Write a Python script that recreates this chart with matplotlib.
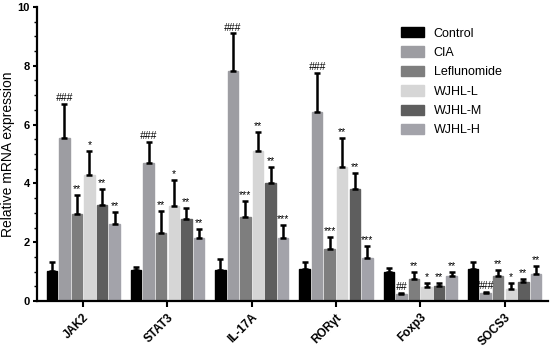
import matplotlib
matplotlib.use("Agg")
import matplotlib.pyplot as plt
import numpy as np
from matplotlib.ticker import MultipleLocator

plt.rcParams['font.family'] = ['Liberation Sans', 'DejaVu Sans']

genes = ["JAK2", "STAT3", "IL-17A", "RORγt", "Foxp3", "SOCS3"]
groups = ["Control", "CIA", "Leflunomide", "WJHL-L", "WJHL-M", "WJHL-H"]

# mean values per treatment group (one entry per gene)
control = [1.03, 1.04, 1.07, 1.09, 0.99, 1.09]
cia = [5.55, 4.68, 7.82, 6.42, 0.24, 0.26]
leflunomide = [2.97, 2.32, 2.85, 1.77, 0.76, 0.84]
wjhl_l = [4.30, 3.23, 5.10, 4.57, 0.47, 0.42]
wjhl_m = [3.25, 2.78, 4.03, 3.81, 0.52, 0.64]
wjhl_h = [2.63, 2.15, 2.14, 1.46, 0.85, 0.91]

# upper error (SD)
control_err = [0.30, 0.11, 0.35, 0.25, 0.13, 0.23]
cia_err = [1.15, 0.72, 1.28, 1.35, 0.04, 0.04]
leflunomide_err = [0.63, 0.73, 0.55, 0.41, 0.22, 0.23]
wjhl_l_err = [0.80, 0.87, 0.65, 0.97, 0.13, 0.20]
wjhl_m_err = [0.55, 0.37, 0.52, 0.54, 0.10, 0.11]
wjhl_h_err = [0.39, 0.30, 0.44, 0.42, 0.15, 0.29]

# significance marks
cia_sig = ["###", "###", "###", "###", "##", "###"]
leflunomide_sig = ["**", "**", "***", "***", "**", "**"]
wjhl_l_sig = ["*", "*", "**", "**", "*", "*"]
wjhl_m_sig = ["**", "**", "**", "**", "**", "**"]
wjhl_h_sig = ["**", "**", "***", "***", "**", "**"]

means = [control, cia, leflunomide, wjhl_l, wjhl_m, wjhl_h]
errs = [control_err, cia_err, leflunomide_err, wjhl_l_err, wjhl_m_err, wjhl_h_err]
sigs = [None, cia_sig, leflunomide_sig, wjhl_l_sig, wjhl_m_sig, wjhl_h_sig]
colors = ["#000000", "#9d9da2", "#7e7e7e", "#d6d6d6", "#5e5e5e", "#a3a3aa"]

fig = plt.figure(figsize=(5.5, 3.48), dpi=100)
ax = fig.add_axes([0.067, 0.135, 0.93, 0.845])

x = np.arange(len(genes))
pitch = 0.149
width = 0.124
for i, (m, e, s, c) in enumerate(zip(means, errs, sigs, colors)):
    pos = x + (i - 2.5) * pitch
    ax.bar(pos, m, width, color=c, edgecolor=c, label=groups[i], zorder=2)
    ax.errorbar(pos, m, yerr=[np.zeros(len(e)), e], fmt="none", ecolor="black",
                elinewidth=1.8, capsize=2.5, capthick=1.8, zorder=3)
    if s is not None:
        for p, mv, ev, txt in zip(pos, m, e, s):
            ax.text(p, mv + ev + 0.03, txt, ha="center", va="bottom", fontsize=7.5,
                    fontstyle="italic" if txt.startswith("#") else "normal")

ax.set_xlim(-0.55, 5.52)
ax.set_ylim(0, 10)
ax.set_xticks(x)
ax.set_xticklabels(genes, rotation=45, ha="right", rotation_mode="anchor",
                   fontsize=8.5, fontweight="bold")
ax.yaxis.set_major_locator(MultipleLocator(2))
ax.yaxis.set_minor_locator(MultipleLocator(0.5))
for lab in ax.get_yticklabels():
    lab.set_fontweight("bold")
ax.tick_params(axis="y", labelsize=8, width=1.5, length=3, pad=2)
ax.tick_params(axis="y", which="minor", width=1.0, length=2)
ax.tick_params(axis="x", width=1.5, length=4)
ax.set_ylabel("Relative mRNA expression", fontsize=10)
ax.yaxis.set_label_coords(-0.042, 0.5)
for side in ["top", "right"]:
    ax.spines[side].set_visible(False)
for side in ["left", "bottom"]:
    ax.spines[side].set_linewidth(1.6)

ax.legend(loc="upper left", bbox_to_anchor=(0.69, 0.97), frameon=False, fontsize=9,
          handlelength=1.8, handleheight=0.9, labelspacing=0.55, handletextpad=0.8)

fig.savefig("out.png", dpi=100)
